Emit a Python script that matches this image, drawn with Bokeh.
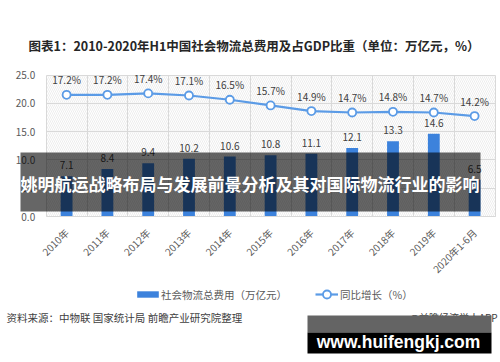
from math import pi
from bokeh.plotting import figure
from bokeh.models import (ColumnDataSource, Range1d, FixedTicker, PrintfTickFormatter,
                          LinearAxis, Grid, BoxAnnotation, Label, LabelSet, Legend, LegendItem)
from bokeh.core.properties import value
from bokeh.embed import file_html
from bokeh.resources import INLINE

# ---- data ----
categories = ["2010年", "2011年", "2012年", "2013年", "2014年", "2015年",
              "2016年", "2017年", "2018年", "2019年", "2020年1-6月"]
cost = [7.1, 8.4, 9.4, 10.2, 10.6, 10.8, 11.1, 12.1, 13.3, 14.6, 6.5]
ratio = [17.2, 17.2, 17.4, 17.1, 16.5, 15.7, 14.9, 14.7, 14.8, 14.7, 14.2]
y_ticks = [0, 5, 10, 15, 20, 25]
y_max = 25
pct_max = 20

title_text = "图表1：2010-2020年H1中国社会物流总费用及占GDP比重（单位：万亿元，%）"
overlay_text = "姚明航运战略布局与发展前景分析及其对国际物流行业的影响"
source_text = "资料来源：中物联 国家统计局 前瞻产业研究院整理"
brand_text = "@前瞻经济学人APP"
site_text = "www.huifengkj.com"
legend_labels = ["社会物流总费用（万亿元）", "同比增长（%）"]

# ---- layout constants (canvas pixels) ----
W, H = 500, 362
PL, PR, PT, PB = 45.7, 494.5, 74.5, 216.0   # plot area

CJK = "Noto Sans CJK SC"
BAR = "#3C82DC"
LINE = "#5B9BE6"
GRAY = "#595959"
GRID = "#d9d9d9"

n = len(categories)
ux = (PR - PL) / n
uy = (PB - PT) / y_max
up = (PB - PT) / pct_max

xs = [i + 0.5 for i in range(n)]
src = ColumnDataSource(dict(
    x=xs, cost=cost, cost_lbl=[f"{v:.1f}" for v in cost],
    ratio=ratio, ratio_lbl=[f"{v:.1f}%" for v in ratio]))

p = figure(width=W, height=H, output_backend="svg", toolbar_location=None,
           x_range=Range1d(-PL / ux, n + (W - PR) / ux),
           y_range=Range1d(-(H - PB) / uy, y_max + PT / uy),
           x_axis_type=None, y_axis_type=None, min_border=0)
p.title.visible = False
p.extra_y_ranges = {"pct": Range1d(-(H - PB) / up, pct_max + PT / up)}
p.outline_line_color = None
p.background_fill_color = "white"
p.border_fill_color = "white"

# hatched plot area
p.add_layout(BoxAnnotation(left=0, right=n, bottom=0, top=y_max, level="underlay",
                           fill_alpha=0, line_color=None,
                           hatch_pattern="\\", hatch_color="#e8e8e8",
                           hatch_scale=4, hatch_weight=0.8))

# grids
gy = Grid(dimension=1, ticker=FixedTicker(ticks=y_ticks), grid_line_color=GRID)
gx = Grid(dimension=0, ticker=FixedTicker(ticks=list(range(n + 1))), grid_line_color=GRID)
if "cross_bounds" in Grid.properties():
    gy.cross_bounds = (0, n)
    gx.cross_bounds = (0, y_max)
p.add_layout(gy)
p.add_layout(gx)

# y axis
yaxis = LinearAxis(ticker=FixedTicker(ticks=y_ticks), fixed_location=0,
                   formatter=PrintfTickFormatter(format="%.1f"), bounds=(0, y_max))
yaxis.axis_line_color = None
yaxis.major_tick_line_color = None
yaxis.minor_tick_line_color = None
yaxis.major_label_standoff = 5
yaxis.major_label_text_font = CJK
yaxis.major_label_text_font_size = "10px"
yaxis.major_label_text_color = GRAY
p.add_layout(yaxis, "left")

# x axis
xaxis = LinearAxis(ticker=FixedTicker(ticks=xs), fixed_location=0, bounds=(0, n),
                   major_label_overrides={x: c for x, c in zip(xs, categories)})
xaxis.axis_line_color = GRID
xaxis.major_tick_line_color = None
xaxis.minor_tick_line_color = None
xaxis.major_label_orientation = pi / 4
xaxis.major_label_standoff = 8
xaxis.major_label_text_font = CJK
xaxis.major_label_text_font_size = "10px"
xaxis.major_label_text_color = GRAY
p.add_layout(xaxis, "below")

# bars and line
bars = p.vbar(x="x", top="cost", width=0.29, source=src, fill_color=BAR, line_color=None)
line = p.line(x="x", y="ratio", source=src, y_range_name="pct", line_color=LINE, line_width=2.2)
pts = p.scatter(x="x", y="ratio", source=src, y_range_name="pct", size=8,
                fill_color="white", line_color=LINE, line_width=1.8)

p.add_layout(LabelSet(x="x", y="cost", text="cost_lbl", source=src, y_offset=11,
                      text_align="center", text_baseline="middle", text_font=value(CJK),
                      text_font_size="10px", text_color="#404040"))
p.add_layout(LabelSet(x="x", y="ratio", text="ratio_lbl", source=src, y_range_name="pct",
                      y_offset=15, text_align="center", text_baseline="middle",
                      text_font=value(CJK), text_font_size="10px", text_color="#404040"))

# legends
LEG_Y = 294
leg1 = Legend(items=[LegendItem(label=legend_labels[0], renderers=[bars])],
              location=(134, H - LEG_Y - 8), orientation="horizontal",
              glyph_width=27, glyph_height=8, label_height=16, label_standoff=0,
              padding=0, margin=0, border_line_color=None, background_fill_alpha=0,
              label_text_font=CJK, label_text_font_size="10.5px",
              label_text_color=GRAY, label_text_baseline="middle")
leg2 = Legend(items=[LegendItem(label=legend_labels[1], renderers=[line, pts])],
              location=(315, H - LEG_Y - 10), orientation="horizontal",
              glyph_width=23, glyph_height=20, label_height=20, label_standoff=2,
              padding=0, margin=0, border_line_color=None, background_fill_alpha=0,
              label_text_font=CJK, label_text_font_size="10.5px",
              label_text_color=GRAY, label_text_baseline="middle")
p.add_layout(leg1)
p.add_layout(leg2)

# title and notes
p.add_layout(Label(x=28, y=45, x_units="canvas", y_units="canvas", text=title_text,
                   text_font=CJK, text_font_size="12.5px", text_font_style="bold",
                   text_color="#262626", text_baseline="middle"))
p.add_layout(Label(x=6, y=317, x_units="canvas", y_units="canvas", text=source_text,
                   text_font=CJK, text_font_size="10.5px", text_color="#404040",
                   text_baseline="middle"))
p.add_layout(Label(x=409, y=317, x_units="canvas", y_units="canvas", text=brand_text,
                   text_font=CJK, text_font_size="10px", text_color="#404040",
                   text_baseline="middle"))

# dark overlay band with headline
p.add_layout(BoxAnnotation(left=20, right=480, top=152, bottom=211,
                           left_units="canvas", right_units="canvas",
                           top_units="canvas", bottom_units="canvas",
                           fill_color="black", fill_alpha=0.6, line_color=None))
p.add_layout(Label(x=249.5, y=183, x_units="canvas", y_units="canvas", text=overlay_text,
                   text_font=CJK, text_font_size="17px", text_font_style="bold",
                   text_color="white", text_align="center", text_baseline="middle"))

# site watermark box
p.add_layout(BoxAnnotation(left=307, right=491, top=315, bottom=332,
                           left_units="canvas", right_units="canvas",
                           top_units="canvas", bottom_units="canvas",
                           fill_color="#646464", fill_alpha=1, line_color=None))
p.add_layout(BoxAnnotation(left=307, right=491, top=332, bottom=353,
                           left_units="canvas", right_units="canvas",
                           top_units="canvas", bottom_units="canvas",
                           fill_color="black", fill_alpha=1, line_color=None))
p.add_layout(Label(x=398, y=341.7, x_units="canvas", y_units="canvas", text=site_text,
                   text_font="Liberation Sans", text_font_size="17.5px",
                   text_font_style="bold", text_color="white", text_align="center",
                   text_baseline="alphabetic"))

open("out.html", "w").write(file_html(p, INLINE))
